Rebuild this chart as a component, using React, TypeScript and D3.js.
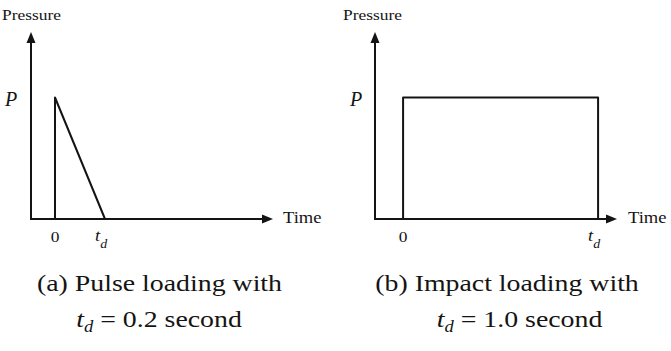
import React from "react";
import * as d3 from "d3";

const pulseTime = [0, 0, 0.2];
const pulsePressure = [0, 1, 0];
const impactTime = [0, 0, 1, 1];
const impactPressure = [0, 1, 1, 0];
const pulseTicks = [0, 0.2];
const impactTicks = [0, 1];
const yLabel = "Pressure";
const xLabel = "Time";
const peakLabel = "P";
const captionsA = ["(a) Pulse loading with", " = 0.2 second"];
const captionsB = ["(b) Impact loading with", " = 1.0 second"];

const FONT = "'Liberation Serif', 'Times New Roman', Times, serif";
const SX = 1.16;
const INK = "#141414";

type PanelProps = {
  times: number[];
  pressures: number[];
  ticks: number[];
  xDomain: [number, number];
  xRange: [number, number];
  origin: [number, number];
  yTop: number;
  pressureX: number;
  pX: number;
  timeX: number;
  caption: string[];
  cap1X: number;
  cap2X: number;
};

function Arrow({ x, y, dir }: { x: number; y: number; dir: "up" | "right" }) {
  const L = 11, W = 4.5;
  const pts =
    dir === "up"
      ? [[x, y], [x - W, y + L], [x + W, y + L]]
      : [[x, y], [x - L, y - W], [x - L, y + W]];
  return <polygon points={pts.map((p) => p.join(",")).join(" ")} fill={INK} />;
}

function Panel(p: PanelProps) {
  const x = d3.scaleLinear().domain(p.xDomain).range(p.xRange);
  const y = d3.scaleLinear().domain([0, 1]).range([219, 97.5]);
  const line = d3
    .line<number>()
    .x((_, i) => x(p.times[i]))
    .y((_, i) => y(p.pressures[i]));
  const [ox, oy] = p.origin;
  const xEnd = p.xRange[1];
  return (
    <g>
      <line x1={ox} y1={oy} x2={ox} y2={p.yTop + 8} stroke={INK} strokeWidth={2} />
      <Arrow x={ox} y={p.yTop} dir="up" />
      <line x1={ox - 1} y1={oy} x2={xEnd - 8} y2={oy} stroke={INK} strokeWidth={2} />
      <Arrow x={xEnd} y={oy} dir="right" />
      <path d={line(p.pressures) || ""} fill="none" stroke={INK} strokeWidth={2} strokeLinejoin="round" />
      <text transform={`translate(${p.pressureX},20) scale(${SX},1)`} fontFamily={FONT} fontSize={15} fill={INK}>
        {yLabel}
      </text>
      <text transform={`translate(${p.timeX},223) scale(${SX},1)`} fontFamily={FONT} fontSize={16} fill={INK}>
        {xLabel}
      </text>
      <text x={p.pX} y={106} fontFamily={FONT} fontSize={20} fontStyle="italic" fill={INK}>
        {peakLabel}
      </text>
      <text transform={`translate(${x(p.ticks[0])},242) scale(${SX},1)`} textAnchor="middle" fontFamily={FONT} fontSize={15} fill={INK}>
        0
      </text>
      <text transform={`translate(${x(p.ticks[1]) - 10},240.5) scale(${SX},1)`} fontFamily={FONT} fontSize={16} fontStyle="italic" fill={INK}>
        t
        <tspan fontSize={12} dy={7}>d</tspan>
      </text>
      <text transform={`translate(${p.cap1X},290.5) scale(${SX},1)`} textAnchor="middle" fontFamily={FONT} fontSize={24} fill={INK}>
        {p.caption[0]}
      </text>
      <text transform={`translate(${p.cap2X},326.5) scale(${SX},1)`} textAnchor="middle" fontFamily={FONT} fontSize={24} fill={INK}>
        <tspan fontStyle="italic">t</tspan>
        <tspan fontStyle="italic" fontSize={16} dy={5}>d</tspan>
        <tspan dy={-5}>{p.caption[1]}</tspan>
      </text>
    </g>
  );
}

export default function App() {
  return (
    <svg width={671} height={351} style={{ position: "absolute", left: 0, top: 0, background: "#fff" }}>
      <rect width={671} height={351} fill="#fff" />
      <Panel
        times={pulseTime}
        pressures={pulsePressure}
        ticks={pulseTicks}
        xDomain={[-0.096, 0.872]}
        xRange={[31, 273]}
        origin={[31, 219]}
        yTop={32}
        pressureX={2}
        pX={5}
        timeX={283}
        caption={captionsA}
        cap1X={159.5}
        cap2X={159}
      />
      <Panel
        times={impactTime}
        pressures={impactPressure}
        ticks={impactTicks}
        xDomain={[-0.144, 1.097]}
        xRange={[375, 617]}
        origin={[375, 219]}
        yTop={32}
        pressureX={343}
        pX={350}
        timeX={628}
        caption={captionsB}
        cap1X={507}
        cap2X={519.5}
      />
    </svg>
  );
}
